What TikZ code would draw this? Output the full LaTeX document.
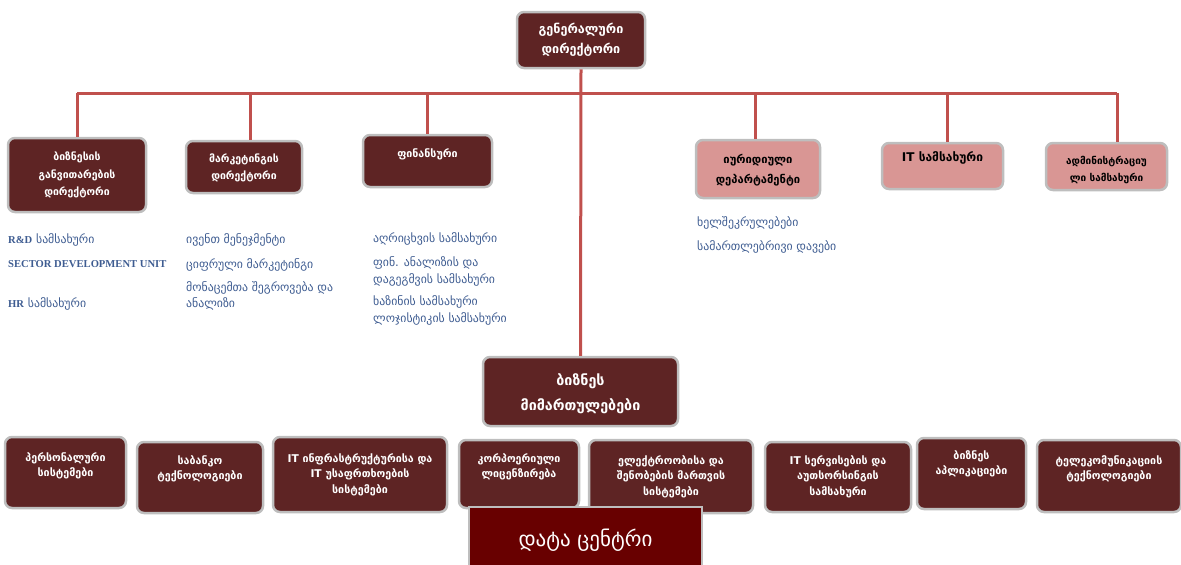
\documentclass[tikz,border=0pt]{standalone}
\usepackage{fontspec}
\setmainfont{DejaVu Sans}
\newfontfamily\serifb{Liberation Serif}
\definecolor{boxdark}{RGB}{94,36,36}
\definecolor{boxpink}{RGB}{217,150,148}
\definecolor{boxgray}{RGB}{190,190,190}
\definecolor{linered}{RGB}{192,80,77}
\definecolor{listblue}{RGB}{62,92,145}
\definecolor{dcred}{RGB}{104,0,0}
\tikzset{
  dbox/.style={draw=boxgray, line width=2.5pt, rounded corners=7pt, fill=boxdark, text=white, align=center, inner sep=0pt, font=\bfseries\fontsize{10.5}{17.5}\selectfont},
  pbox/.style={dbox, fill=boxpink, text=black},
  btxt/.style={anchor=north, text=white, align=center, inner sep=0pt, font=\bfseries\fontsize{10.7}{15.5}\selectfont},
  conn/.style={draw=linered, line width=3pt},
  lst/.style={anchor=west, text=listblue, inner sep=0pt, font=\fontsize{11.8}{16}\selectfont},
}
\begin{document}
\begin{tikzpicture}[x=1pt,y=-1pt]
\useasboundingbox (0,0) rectangle (1181,565);
\coordinate (busL) at (77,93);
\coordinate (busR) at (1117,93);
\coordinate (j1) at (77,93);
\coordinate (j2) at (250,93);
\coordinate (j3) at (427,93);
\coordinate (j4) at (755,93);
\coordinate (j5) at (947,93);
\coordinate (j6) at (1117,93);
% boxes
\node[dbox, minimum width=128pt, minimum height=56pt, font=\bfseries\fontsize{12.6}{20}\selectfont] (top) at (581,40) {გენერალური\\დირექტორი};
\node[dbox, minimum width=138pt, minimum height=74pt] (b1) at (77,175) {ბიზნესის\\განვითარების\\დირექტორი};
\node[dbox, minimum width=116pt, minimum height=52pt] (b2) at (244,167) {};
\node[btxt, font=\bfseries\fontsize{10.5}{17}\selectfont] (b2t) at (244,154) {მარკეტინგის\\დირექტორი};
\node[dbox, minimum width=129pt, minimum height=52pt] (b3) at (427.5,161) {};
\node[btxt] (b3t) at (427.5,148) {ფინანსური};
\node[pbox, minimum width=124pt, minimum height=58pt] (b4) at (758,169) {};
\node[btxt, text=black, font=\bfseries\fontsize{11.2}{20}\selectfont] (b4t) at (758,154) {იურიდიული\\დეპარტამენტი};
\node[pbox, minimum width=121pt, minimum height=46pt] (b5) at (942.5,166) {};
\node[btxt, text=black, font=\bfseries\fontsize{12}{16}\selectfont] (b5t) at (942.5,151) {IT სამსახური};
\node[pbox, minimum width=121pt, minimum height=47pt] (b6) at (1106.5,166.5) {};
\node[btxt, text=black, font=\bfseries\fontsize{10}{17}\selectfont] (b6t) at (1106.5,156) {ადმინისტრაციუ\\ლი სამსახური};
\node[dbox, minimum width=195pt, minimum height=69pt] (ctr) at (580.5,391.5) {};
\node[btxt, font=\bfseries\fontsize{14.3}{25}\selectfont] (ctrt) at (580.5,373) {ბიზნეს\\მიმართულებები};
\draw[conn] (top.south) -- (ctr.north);
\draw[conn] (busL) -- (busR);
\draw[conn] (j1) -- (j1 |- b1.north);
\draw[conn] (j2) -- (j2 |- b2.north);
\draw[conn] (j3) -- (j3 |- b3.north);
\draw[conn] (j4) -- (j4 |- b4.north);
\draw[conn] (j5) -- (j5 |- b5.north);
\draw[conn] (j6) -- (j6 |- b6.north);
% bottom row
\node[dbox, minimum width=121pt, minimum height=71pt] (p1) at (65.5,472.5) {};
\node[btxt] (p1t) at (65.5,452) {პერსონალური\\სისტემები};
\node[dbox, minimum width=126pt, minimum height=71pt] (p2) at (200,477.5) {};
\node[btxt] (p2t) at (200,455) {საბანკო\\ტექნოლოგიები};
\node[dbox, minimum width=174pt, minimum height=75pt] (p3) at (360,474.5) {};
\node[btxt] (p3t) at (360,453) {IT ინფრასტრუქტურისა და\\IT უსაფრთხოების\\სისტემები};
\node[dbox, minimum width=120pt, minimum height=68pt] (p4) at (519,474) {};
\node[btxt] (p4t) at (519,453) {კორპოერიული\\ლიცენზირება};
\node[dbox, minimum width=164pt, minimum height=73pt] (p5) at (671,476.5) {};
\node[btxt] (p5t) at (671,455) {ელექტროობისა და\\შენობების მართვის\\სისტემები};
\node[dbox, minimum width=146pt, minimum height=70pt] (p6) at (838,477) {};
\node[btxt] (p6t) at (838,455) {IT სერვისების და\\აუთსორსინგის\\სამსახური};
\node[dbox, minimum width=109pt, minimum height=71pt] (p7) at (971.5,473.5) {};
\node[btxt] (p7t) at (971.5,450) {ბიზნეს\\აპლიკაციები};
\node[dbox, minimum width=144pt, minimum height=72pt] (p8) at (1109,476) {};
\node[btxt] (p8t) at (1109,455) {ტელეკომუნიკაციის\\ტექნოლოგიები};
% data centre
\node[draw=boxgray, line width=2.5pt, fill=dcred, minimum width=233pt, minimum height=64pt, inner sep=0pt] (dc) at (585.5,539) {};
\node[text=white, inner sep=0pt, font=\fontsize{21}{24}\selectfont] (dct) at (585.5,540) {დატა ცენტრი};
% lists
\node[lst] (l11) at (8,240) {{\serifb\bfseries\fontsize{10.6}{14}\selectfont R\&D} სამსახური};
\node[lst] (l12) at (8,264) {\serifb\bfseries\fontsize{10.6}{14}\selectfont SECTOR DEVELOPMENT UNIT};
\node[lst] (l13) at (8,304) {{\serifb\bfseries\fontsize{10.6}{14}\selectfont HR} სამსახური};
\node[lst] (l21) at (186,240) {ივენთ მენეჯმენტი};
\node[lst] (l22) at (186,265) {ციფრული მარკეტინგი};
\node[lst] (l23) at (186,288) {მონაცემთა შეგროვება და};
\node[lst] (l24) at (186,304) {ანალიზი};
\node[lst] (l31) at (373,239) {აღრიცხვის სამსახური};
\node[lst] (l32) at (373,263) {ფინ. ანალიზის და};
\node[lst] (l33) at (373,280) {დაგეგმვის სამსახური};
\node[lst] (l34) at (373,302) {ხაზინის სამსახური};
\node[lst] (l35) at (373,319) {ლოჯისტიკის სამსახური};
\node[lst] (l41) at (697,223) {ხელშეკრულებები};
\node[lst] (l42) at (697,247) {სამართლებრივი დავები};
\end{tikzpicture}
\end{document}
